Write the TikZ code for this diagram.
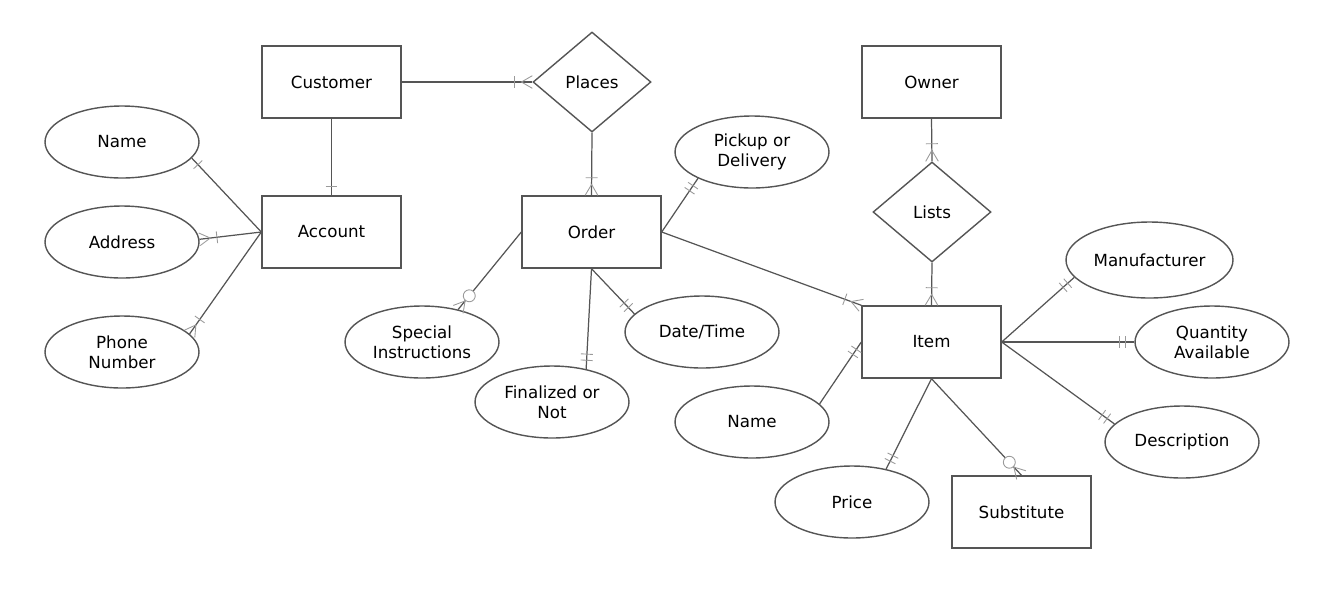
\documentclass[tikz,border=0pt]{standalone}
\usepackage{fontspec}
\setmainfont{DejaVu Sans}
\usetikzlibrary{shapes.geometric, decorations.markings}
\definecolor{linegray}{HTML}{555555}
\definecolor{markgray}{HTML}{9A9A9A}
\begin{document}
\begin{tikzpicture}[x=0.02cm, y=-0.02cm,
  font=\fontsize{9.5}{11.5}\selectfont,
  entity/.style={draw=linegray, line width=0.8pt, minimum width=2.78cm, minimum height=1.44cm},
  attr/.style={draw=linegray, line width=0.8pt, ellipse, inner sep=0pt, align=center,
    minimum width=3.08cm, minimum height=1.44cm},
  rel/.style={draw=linegray, line width=0.8pt, diamond, inner sep=0pt,
    minimum width=2.36cm, minimum height=2cm},
  link/.style={draw=linegray, line width=0.7pt},
  mk/.style={draw=markgray, line width=0.5pt},
  barat/.style={postaction={decorate, decoration={markings,
    mark=at position -#1 with {\draw[mk] (0pt,-3.4pt) -- (0pt,3.4pt);}}}},
  ringat/.style={postaction={decorate, decoration={markings,
    mark=at position -#1 with {\draw[mk, fill=white] (0pt,0pt) circle (3.4pt);}}}},
  crow/.style={postaction={decorate, decoration={markings,
    mark=at position 1 with {\draw[mk] (0pt,3.6pt) -- (-6.2pt,0pt) -- (0pt,-3.6pt);}}}},
  one/.style={barat=5pt},
  onlyone/.style={barat=5pt, barat=8.5pt},
  onemany/.style={crow, barat=10pt},
  zeromany/.style={crow, ringat=10pt}]
\useasboundingbox (0,0) rectangle (1341,606);
% entities
\node[entity] (cust) at (331.5,82) {Customer};
\node[entity] (acct) at (331.5,232) {Account};
\node[entity] (order) at (591.5,232) {Order};
\node[entity] (owner) at (931.5,82) {Owner};
\node[entity] (item) at (931.5,342) {Item};
\node[entity] (subst) at (1021.5,512) {Substitute};
% relationships
\node[rel] (places) at (592,82) {Places};
\node[rel] (lists) at (932,212) {Lists};
% attributes
\node[attr] (name) at (122,142) {Name};
\node[attr] (addr) at (122,242) {Address};
\node[attr] (phone) at (122,352) {Phone\\Number};
\node[attr] (pickup) at (752,152) {Pickup or\\Delivery};
\node[attr] (spec) at (422,342) {Special\\Instructions};
\node[attr] (fin) at (552,402) {Finalized or\\Not};
\node[attr] (dt) at (702,332) {Date/Time};
\node[attr, minimum width=3.34cm, minimum height=1.52cm] (manuf) at (1149.5,260) {Manufacturer};
\node[attr] (qty) at (1212,342) {Quantity\\Available};
\node[attr] (descr) at (1182,442) {Description};
\node[attr] (iname) at (752,422) {Name};
\node[attr] (price) at (852,502) {Price};
% connectors
\draw[link, onemany] (cust.east) -- (places.west);
\draw[link, one] (cust.south) -- (acct.north);
\draw[link, onemany] (places.south) -- (order.north);
\draw[link, one] (acct.west) -- (name.-13);
\draw[link, onemany] (acct.west) -- (addr.2);
\draw[link, onemany] (acct.west) -- (phone.15);
\draw[link, zeromany] (order.west) -- (spec.42);
\draw[link, onlyone] (order.south) -- (fin.44);
\draw[link, onlyone] (order.south) -- (dt.165);
\draw[link, onlyone] (order.east) -- (pickup.206);
\draw[link, onemany] (order.east) -- (item.north west);
\draw[link, onemany] (owner.south) -- (lists.north);
\draw[link, onemany] (lists.south) -- (item.north);
\draw[link, onlyone] (iname.15) -- (item.west);
\draw[link, onlyone] (item.south) -- (price.44);
\draw[link, zeromany] (item.south) -- (subst.north);
\draw[link, onlyone] (item.east) -- (manuf.193);
\draw[link, onlyone] (item.east) -- (qty.west);
\draw[link, onlyone] (item.east) -- (descr.165);
\end{tikzpicture}
\end{document}
